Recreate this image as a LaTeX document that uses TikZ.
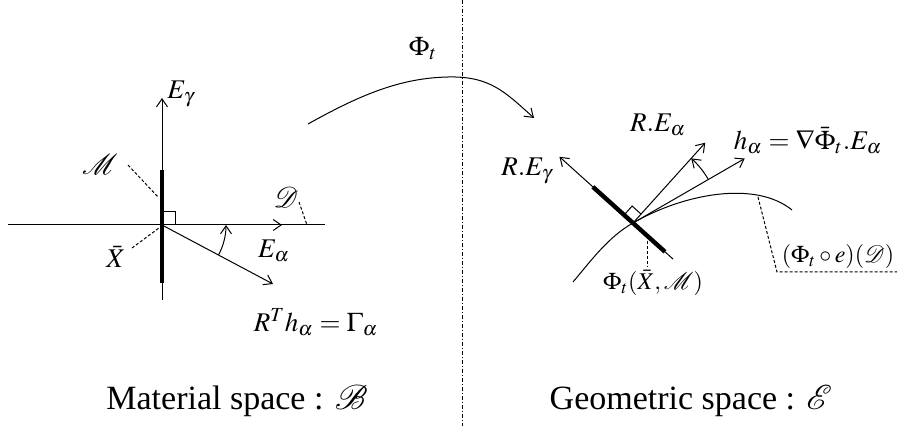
\documentclass[tikz,border=0pt]{standalone}
\usepackage{amsmath}
\usepackage{mathptmx}
\usepackage{mathrsfs}
\usepackage[no-math]{fontspec}
\setmainfont{Liberation Serif}
\usetikzlibrary{arrows.meta, calc, positioning}
\tikzset{
  vec/.style={-{Straight Barb[length=4pt,width=5.5pt]}, line width=0.5pt},
  seg/.style={line width=0.5pt},
  thickseg/.style={line width=2.2pt},
  leader/.style={line width=0.5pt, dash pattern=on 1.5pt off 1pt},
  divider/.style={line width=0.5pt, dash pattern=on 2pt off 1pt on 0.5pt off 1pt},
  lbl/.style={inner sep=0pt, font=\fontsize{13.5}{16}\selectfont},
  smalllbl/.style={inner sep=0pt, font=\fontsize{12}{14}\selectfont},
  caption/.style={inner sep=0pt, anchor=base, font=\fontsize{17}{20}\selectfont}
}

\begin{document}
\begin{tikzpicture}[x=0.5pt, y=-0.5pt]
  \useasboundingbox (0,0) rectangle (899,426);

  % Divider
  \coordinate (dtop) at (462,0);
  \coordinate (dbot) at (462,426);
  \draw[divider] (dtop) -- (dbot);

  % Material space
  \coordinate (o1)  at (162,225);
  \coordinate (dl)  at (8,225);
  \coordinate (dr)  at (325,225);
  \coordinate (ea)  at (282,225);
  \coordinate (eg)  at (162,98);
  \coordinate (egb) at (162,300);
  \coordinate (mt)  at (162,170);
  \coordinate (mb)  at (162,283);
  \coordinate (ha)  at (273,284);

  \draw[seg] (dl) -- (dr);
  \draw[vec] (egb) -- (eg);
  \draw[vec] (o1) -- (ea);
  \draw[vec] (o1) -- (ha);
  \draw[thickseg] (mt) -- (mb);
  \draw[seg] (o1) rectangle ++(13,-13);
  \draw[vec] ($(o1)+(28:64)$) arc[start angle=28, end angle=0, radius=64];

  \node[lbl] (lEg) at (181,94)  {$E_\gamma$};
  \node[lbl] (lEa) at (274,251) {$E_\alpha$};
  \node[lbl] (lM)  at (100,164) {$\mathscr{M}$};
  \node[lbl] (lD)  at (286,197) {$\mathscr{D}$};
  \node[lbl] (lX)  at (116,257) {$\bar{X}$};
  \node[lbl] (lRh) at (316,322) {$R^T h_\alpha = \Gamma_\alpha$};

  \coordinate (mlead) at (128,165);
  \coordinate (mfoot) at (158,197);
  \coordinate (dlead) at (299,202);
  \coordinate (dfoot) at (307,225);
  \coordinate (xlead) at (132,248);
  \coordinate (xfoot) at (159,228);
  \draw[leader] (mlead) -- (mfoot);
  \draw[leader] (dlead) -- (dfoot);
  \draw[leader] (xlead) -- (xfoot);

  % Map Phi_t
  \coordinate (a0)  at (308,124);
  \coordinate (apk) at (448,77);
  \coordinate (a1)  at (534,118);
  \draw[vec] (a0) .. controls (360,95) and (400,78) .. (apk)
                  .. controls (490,76) and (505,92) .. (a1);
  \node[lbl] (lphi) at (423,49) {$\Phi_t$};

  % Geometric space
  \coordinate (o2) at (633,223);
  \coordinate (c0) at (573,282);
  \coordinate (c1) at (792,210);
  \draw[seg] (c0) .. controls (590,262) and (608,237) .. (o2)
                  .. controls (683,194) and (755,180) .. (c1);

  \draw[vec] ($(o2)+(42:54)$) -- ($(o2)+(-138:99)$);
  \draw[thickseg] ($(o2)+(42:43)$) -- ($(o2)+(-138:54)$);
  \draw[vec] (o2) -- ++(-48:108);
  \draw[vec] (o2) -- ++(-30:129);
  \draw[seg] ($(o2)+(-48:12)$) -- ++(-138:12) -- ($(o2)+(-138:12)$);
  \draw[vec] ($(o2)+(-30:87)$) arc[start angle=-30, end angle=-48, radius=87];

  \node[lbl] (lREg) at (527,171) {$R.E_\gamma$};
  \node[lbl] (lREa) at (658,125) {$R.E_\alpha$};
  \node[lbl] (lh)   at (808,141) {$h_\alpha = \nabla\bar{\Phi}_t.E_\alpha$};

  \coordinate (plead) at ($(o2)+(42:19)$);
  \draw[leader] (plead) -- ++(0,31);
  \node[smalllbl] (lPX) at (653,283) {$\Phi_t(\bar{X},\mathscr{M})$};

  \coordinate (qlead) at (758,197);
  \coordinate (qknee) at (777,272);
  \coordinate (qend)  at (897,272);
  \draw[leader] (qlead) -- (qknee) -- (qend);
  \node[smalllbl] (lPD) at (838,257) {$(\Phi_t\circ e)(\mathscr{D})$};

  % Captions
  \node[caption] (capB) at (237,410) {Material space : $\mathscr{B}$};
  \node[caption] (capE) at (691,410) {Geometric space : $\mathscr{E}$};
\end{tikzpicture}
\end{document}
